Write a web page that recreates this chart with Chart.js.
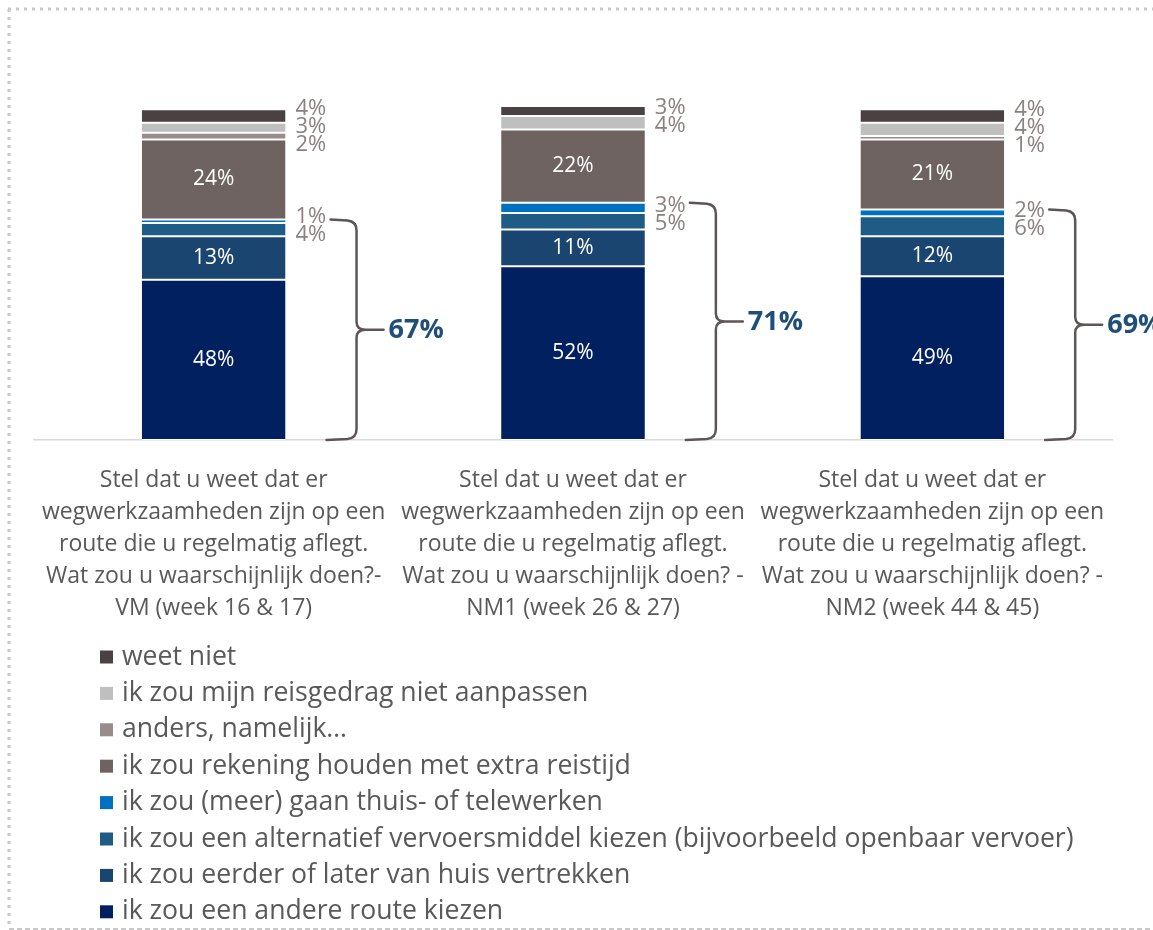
<!DOCTYPE html>
<html>
<head>
<meta charset="utf-8">
<script src="https://cdn.jsdelivr.net/npm/chart.js@4.4.1/dist/chart.umd.min.js"></script>
<style>
  html, body { margin: 0; padding: 0; background: #fff; }
  canvas { display: block; }
</style>
</head>
<body>
<canvas id="chart" width="1153" height="930"></canvas>
<script>
// vragen per meting (x-as)
const categories = [
  ["Stel dat u weet dat er", "wegwerkzaamheden zijn op een", "route die u regelmatig aflegt.", "Wat zou u waarschijnlijk doen?-", "VM (week 16 & 17)"],
  ["Stel dat u weet dat er", "wegwerkzaamheden zijn op een", "route die u regelmatig aflegt.", "Wat zou u waarschijnlijk doen? -", "NM1 (week 26 & 27)"],
  ["Stel dat u weet dat er", "wegwerkzaamheden zijn op een", "route die u regelmatig aflegt.", "Wat zou u waarschijnlijk doen? -", "NM2 (week 44 & 45)"]
];

// antwoorden, van onder naar boven gestapeld
const andereRoute      = [48, 52, 49];
const eerderLater      = [13, 11, 12];
const alternatief      = [4, 5, 6];
const thuiswerken      = [1, 3, 2];
const extraReistijd    = [24, 22, 21];
const anders           = [2, 0, 1];
const nietAanpassen    = [3, 4, 4];
const weetNiet         = [4, 3, 4];

// totaal van de onderste vier antwoorden (accolade)
const braceTotals = [67, 71, 69];

const seriesNames = [
  "ik zou een andere route kiezen",
  "ik zou eerder of later van huis vertrekken",
  "ik zou een alternatief vervoersmiddel kiezen (bijvoorbeeld openbaar vervoer)",
  "ik zou (meer) gaan thuis- of telewerken",
  "ik zou rekening houden met extra reistijd",
  "anders, namelijk…",
  "ik zou mijn reisgedrag niet aanpassen",
  "weet niet"
];
const seriesValues = [andereRoute, eerderLater, alternatief, thuiswerken, extraReistijd, anders, nietAanpassen, weetNiet];
const colors = ["#002060", "#1a4571", "#1f5c85", "#0070c0", "#6f6362", "#978b8b", "#bfbfbf", "#4a4142"];
const insideLabelled = [0, 1, 4];
const braceTopSeries = 3;

const FONT = "'Open Sans', 'Noto Sans', sans-serif";

const labelPlugin = {
  id: "labels",
  afterDatasetsDraw(chart) {
    const { ctx, chartArea } = chart;
    const gap = 18;
    ctx.save();
    for (let i = 0; i < categories.length; i++) {
      const outside = [];
      chart.data.datasets.forEach((ds, d) => {
        const v = ds.data[i];
        if (!v) return;
        const bar = chart.getDatasetMeta(d).data[i];
        const cy = (bar.y + bar.base) / 2;
        if (insideLabelled.includes(d)) {
          ctx.font = "21px " + FONT;
          ctx.fillStyle = "#ffffff";
          ctx.textAlign = "center";
          ctx.textBaseline = "middle";
          ctx.fillText(v + "%", bar.x, cy);
        } else {
          outside.push({ y: cy, text: v + "%", right: bar.x + bar.width / 2 });
        }
      });

      // kleine waarden naast de balk, zonder overlap
      outside.sort((a, b) => a.y - b.y);
      let groups = outside.map(o => ({ items: [o], mean: o.y }));
      let merged = true;
      while (merged) {
        merged = false;
        for (let g = 0; g < groups.length - 1; g++) {
          const a = groups[g], b = groups[g + 1];
          const aEnd = a.mean + (a.items.length - 1) * gap / 2;
          const bStart = b.mean - (b.items.length - 1) * gap / 2;
          if (bStart - aEnd < gap) {
            const items = a.items.concat(b.items);
            const mean = items.reduce((s, o) => s + o.y, 0) / items.length;
            groups.splice(g, 2, { items, mean });
            merged = true;
            break;
          }
        }
      }
      ctx.font = "22px " + FONT;
      ctx.fillStyle = "#8b8181";
      ctx.textAlign = "left";
      ctx.textBaseline = "middle";
      groups.forEach(g => {
        g.items.forEach((o, k) => {
          const y = g.mean + (k - (g.items.length - 1) / 2) * gap;
          ctx.fillText(o.text, o.right + 10, y);
        });
      });

      // accolade
      const topBar = chart.getDatasetMeta(braceTopSeries).data[i];
      const x0 = topBar.x + topBar.width / 2 + 71;
      const top = topBar.y;
      const bottom = chartArea.bottom;
      const mid = (top + bottom) / 2;
      ctx.strokeStyle = "#5f5556";
      ctx.lineWidth = 2.5;
      ctx.lineCap = "round";
      ctx.beginPath();
      ctx.moveTo(x0 - 26, top);
      ctx.lineTo(x0 - 9, top + 1);
      ctx.quadraticCurveTo(x0, top + 2, x0, top + 11);
      ctx.lineTo(x0, mid - 8);
      ctx.quadraticCurveTo(x0, mid, x0 + 9, mid);
      ctx.lineTo(x0 + 27, mid);
      ctx.moveTo(x0 + 9, mid);
      ctx.quadraticCurveTo(x0, mid, x0, mid + 8);
      ctx.lineTo(x0, bottom - 11);
      ctx.quadraticCurveTo(x0, bottom - 2, x0 - 9, bottom - 1);
      ctx.lineTo(x0 - 30, bottom);
      ctx.stroke();

      ctx.font = "bold 27px " + FONT;
      ctx.fillStyle = "#1f4e79";
      ctx.textAlign = "left";
      ctx.textBaseline = "middle";
      ctx.fillText(braceTotals[i] + "%", x0 + 32, mid + 1);
    }
    ctx.restore();
  },
  afterDraw(chart) {
    const { ctx } = chart;
    ctx.save();
    // legenda, bovenste reeks eerst
    ctx.font = "26.6px " + FONT;
    ctx.textAlign = "left";
    ctx.textBaseline = "middle";
    const n = seriesNames.length;
    for (let k = 0; k < n; k++) {
      const d = n - 1 - k;
      const y = 657 + k * 36.4;
      ctx.fillStyle = colors[d];
      ctx.fillRect(100, y - 6.5, 13, 13);
      ctx.fillStyle = "#595959";
      ctx.fillText(seriesNames[d], 122, y);
    }

    // stippelrand
    ctx.strokeStyle = "#c8c8c8";
    ctx.lineWidth = 3;
    ctx.setLineDash([3, 5]);
    ctx.beginPath();
    ctx.moveTo(8, 9);
    ctx.lineTo(1153, 9);
    ctx.moveTo(9, 9);
    ctx.lineTo(9, 929);
    ctx.stroke();
    ctx.setLineDash([5, 3]);
    ctx.lineWidth = 2;
    ctx.beginPath();
    ctx.moveTo(9, 929);
    ctx.lineTo(1153, 929);
    ctx.stroke();
    ctx.restore();
  }
};

const datasets = seriesNames.map((name, d) => ({
  label: name,
  data: seriesValues[d],
  backgroundColor: colors[d],
  borderColor: "#ffffff",
  borderWidth: { top: 1, bottom: 1, left: 0, right: 0 },
  borderSkipped: false,
  barPercentage: 0.4,
  categoryPercentage: 1
}));

new Chart(document.getElementById("chart").getContext("2d"), {
  type: "bar",
  data: { labels: categories, datasets },
  options: {
    responsive: false,
    animation: false,
    layout: { padding: { left: 34, right: 41, top: 106, bottom: 0 } },
    plugins: { legend: { display: false }, tooltip: { enabled: false } },
    scales: {
      x: {
        stacked: true,
        grid: { display: false },
        border: { display: true, color: "#d9d9d9", width: 1.5 },
        ticks: {
          autoSkip: false,
          maxRotation: 0,
          padding: 16,
          color: "#595959",
          font: { family: FONT, size: 23, lineHeight: 32 / 23 }
        },
        afterFit(scale) { scale.height = 490; }
      },
      y: {
        stacked: true,
        display: false,
        min: 0,
        max: 100
      }
    }
  },
  plugins: [labelPlugin]
});
</script>
</body>
</html>
